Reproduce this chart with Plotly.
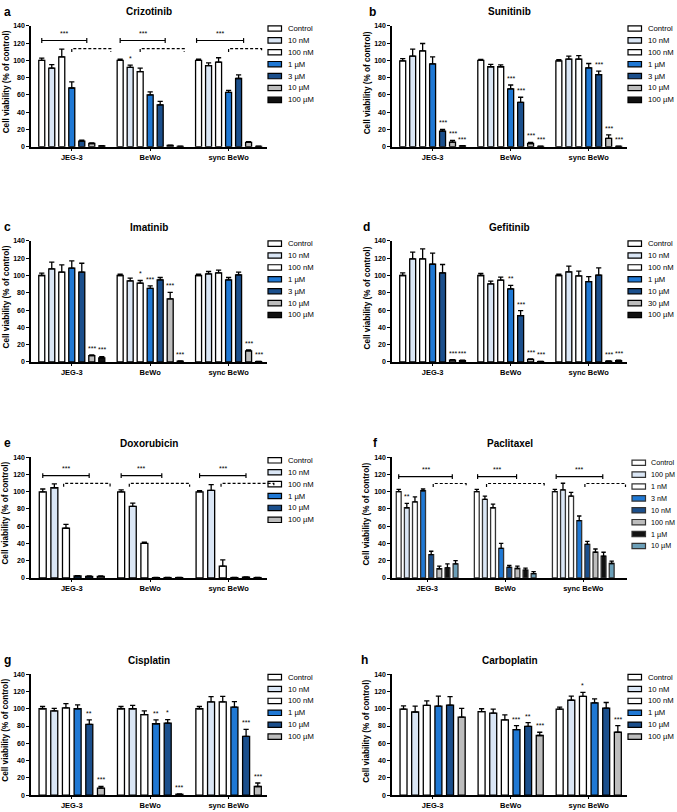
import plotly.graph_objects as go

GROUPS = ["JEG-3", "BeWo", "sync BeWo"]

WHITE = "#ffffff"
LBLUE = "#dae6f5"
BLUE = "#1f78d4"
DBLUE = "#1b4f8c"
GRAY = "#bdbdbd"
BLACK = "#111111"
TEAL = "#6b9fb8"

C7 = [WHITE, LBLUE, WHITE, BLUE, DBLUE, GRAY, BLACK]
C6 = [WHITE, LBLUE, WHITE, BLUE, DBLUE, GRAY]
C8 = [WHITE, LBLUE, WHITE, BLUE, DBLUE, GRAY, BLACK, TEAL]

# ---- a Crizotinib ----
CRIZ_DOSES = ["Control", "10 nM", "100 nM", "1 µM", "3 µM", "10 µM", "100 µM"]
CRIZ_MEAN = [[100, 91, 104, 68, 6.5, 3.8, 1], [100, 92, 87, 60, 48.5, 1.5, 0.4], [100, 94, 98, 63, 79, 5, 0.4]]
CRIZ_SEM = [[2.5, 4, 9, 7, 1.2, 0.8, 0.3], [1.5, 2.5, 4, 3.5, 4, 0.3, 0.2], [1.5, 3, 5, 2.3, 4.2, 1, 0.2]]
CRIZ_STARS = [["", "", "", "", "", "", ""], ["", "*", "", "", "", "", ""], ["", "", "", "", "", "", ""]]

# ---- b Sunitinib ----
SUNI_DOSES = ["Control", "10 nM", "100 nM", "1 µM", "3 µM", "10 µM", "100 µM"]
SUNI_MEAN = [[99.5, 105, 111, 96, 18, 5.4, 1], [100, 92.6, 92.6, 67, 51.3, 3.8, 0.4], [99.5, 101.4, 101.4, 91.4, 83.4, 9.6, 0.4]]
SUNI_SEM = [[2.5, 8, 8.5, 8, 2, 1.9, 0.4], [1.2, 2.7, 2.2, 4.5, 6, 1.2, 0.2], [1.2, 3.4, 4.2, 5, 4.2, 4.2, 0.2]]
SUNI_STARS = [["", "", "", "", "***", "***", "***"], ["", "", "", "***", "***", "***", "***"], ["", "", "", "", "***", "***", "***"]]

# ---- c Imatinib ----
IMA_DOSES = ["Control", "10 nM", "100 nM", "1 µM", "3 µM", "10 µM", "100 µM"]
IMA_MEAN = [[100, 107.7, 103.8, 108.5, 103.8, 7.3, 4.6], [100, 93.8, 91.2, 85, 95, 73, 0.8], [100, 101.9, 103, 95, 100.8, 12.7, 0.4]]
IMA_SEM = [[2.7, 7.7, 8.5, 8.4, 10.4, 0.8, 1.6], [1.5, 3.1, 3, 3, 2.7, 7.4, 0.3], [1.5, 2.7, 3.2, 2.7, 3, 1.1, 0.2]]
IMA_STARS = [["", "", "", "", "", "***", "***"], ["", "", "*", "***", "", "***", "***"], ["", "", "", "", "", "***", "***"]]

# ---- d Gefitinib ----
GEF_DOSES = ["Control", "10 nM", "100 nM", "1 µM", "10 µM", "30 µM", "100 µM"]
GEF_MEAN = [[100, 119.2, 119.2, 113, 103, 2, 1.5], [100, 90.4, 94.6, 84.6, 53.5, 3, 0.4], [100, 104.2, 99.6, 93, 100.4, 0.8, 1.5]]
GEF_SEM = [[3, 7.8, 11.6, 13, 9.7, 0.5, 0.5], [2.3, 3.1, 3.4, 3.9, 5.9, 0.5, 0.2], [1.5, 6.6, 5.4, 5.8, 8.4, 0.2, 0.5]]
GEF_STARS = [["", "", "", "", "", "***", "***"], ["", "", "", "**", "***", "***", "***"], ["", "", "", "", "", "***", "***"]]

# ---- e Doxorubicin ----
DOX_DOSES = ["Control", "10 nM", "100 nM", "1 µM", "10 µM", "100 µM"]
DOX_MEAN = [[99.6, 104.5, 57.6, 2.3, 2, 2], [99.6, 83, 40.2, 0.4, 0.5, 0.5], [99.6, 101.5, 13.8, 0.5, 1, 0.5]]
DOX_SEM = [[3.4, 4.5, 4.4, 0.5, 0.5, 0.5], [2.4, 3.6, 1.2, 0.2, 0.2, 0.2], [1.4, 6.5, 7.2, 0.2, 0.3, 0.2]]
DOX_STARS = [["", "", "", "", "", ""], ["", "", "", "", "", ""], ["", "", "", "", "", ""]]

# ---- f Paclitaxel ----
PAC_DOSES = ["Control", "100 pM", "1 nM", "3 nM", "10 nM", "100 nM", "1 µM", "10 µM"]
PAC_MEAN = [[100, 81.3, 88.2, 101, 27, 10.7, 11.8, 16.4], [100, 91, 81.3, 34.4, 12.2, 11, 9.2, 5], [100, 102, 94.7, 66.4, 39, 29.8, 25.2, 16.8]]
PAC_SEM = [[2.5, 5, 5.8, 2, 4, 3, 4.6, 3.8], [2.5, 3.7, 4.2, 5.6, 2.3, 2.7, 2.3, 2.3], [2.5, 7.7, 4.5, 5.4, 3.4, 3.8, 4.6, 2.7]]
PAC_STARS = [["", "**", "", "", "", "", "", ""], ["", "", "", "", "", "", "", ""], ["", "", "", "", "", "", "", ""]]

# ---- g Cisplatin ----
CIS_DOSES = ["Control", "10 nM", "100 nM", "1 µM", "10 µM", "100 µM"]
CIS_MEAN = [[100, 97.4, 101, 100, 81.9, 8], [100, 100, 93.2, 82.6, 83.4, 1], [100, 107.9, 107.9, 101.9, 68, 10]]
CIS_SEM = [[2.6, 3, 5, 4.5, 5.3, 2], [2.6, 3.8, 4.2, 4.6, 4.1, 0.3], [2.6, 6.1, 6.4, 6.4, 8.2, 4]]
CIS_STARS = [["", "", "", "", "**", "***"], ["", "", "", "**", "*", "***"], ["", "", "", "", "***", "***"]]

# ---- h Carboplatin ----
CARB_DOSES = ["Control", "10 nM", "100 nM", "1 µM", "10 µM", "100 µM"]
CARB_MEAN = [[99.6, 96.2, 103.8, 103, 104.2, 90.2], [96.6, 95, 87.2, 75.8, 79.6, 69], [99.6, 109.8, 114.3, 106.8, 100.8, 72.8]]
CARB_SEM = [[3.8, 6.8, 5.2, 11.7, 9.8, 10.2], [3.4, 4.6, 5.6, 4.6, 4.2, 3.8], [2.3, 4.9, 4.6, 4.5, 6.4, 7.6]]
CARB_STARS = [["", "", "", "", "", ""], ["", "", "", "***", "**", "***"], ["", "", "*", "", "", "***"]]

# Significance brackets (bar-index ranges per group)
CRIZ_BRACKETS = dict(solid_y=123, dashed_y=113.6, solid=[(0, 4.5), (0, 4.5), (-0.2, 4.5)], dashed=[(3, 6.9), (2, 6.4), (3, 6.3)])
DOX_BRACKETS = dict(solid_y=118.5, dashed_y=109.5, solid=[(0, 4), (0, 3.5), (0, 4)], dashed=[(1.8, 5.8), (0.7, 5.9), (1.85, 6.4)])
PAC_BRACKETS = dict(solid_y=117.4, dashed_y=109.4, solid=[(0, 6.6), (0.1, 4.9), (0.16, 5.9)], dashed=[(4.25, 8.3), (1.2, 8.3), (3.7, 8.7)])

FIG_W, FIG_H = 677, 812
COLS = [(31, 267), (392, 627)]
ROWS = [(22, 144), (239, 361), (457, 579), (676, 798)]
FONT = "Arial, Liberation Sans, sans-serif"
YMAX = 140

PANELS = [
    dict(letter="a", title="Crizotinib", doses=CRIZ_DOSES, colors=C7, mean=CRIZ_MEAN, sem=CRIZ_SEM, stars=CRIZ_STARS,
         slot=0.1276, xr=(-0.52, 2.49), col=0, row=0, leg=(268, 24.7, 18, 7.7), lx=7, br=CRIZ_BRACKETS),
    dict(letter="b", title="Sunitinib", doses=SUNI_DOSES, colors=C7, mean=SUNI_MEAN, sem=SUNI_SEM, stars=SUNI_STARS,
         slot=0.1276, xr=(-0.52, 2.49), col=1, row=0, leg=(628, 24.7, 18, 7.7), lx=372, br=None),
    dict(letter="c", title="Imatinib", doses=IMA_DOSES, colors=C7, mean=IMA_MEAN, sem=IMA_SEM, stars=IMA_STARS,
         slot=0.1276, xr=(-0.52, 2.49), col=0, row=1, leg=(268, 241.7, 18, 7.7), lx=7, br=None),
    dict(letter="d", title="Gefitinib", doses=GEF_DOSES, colors=C7, mean=GEF_MEAN, sem=GEF_SEM, stars=GEF_STARS,
         slot=0.1276, xr=(-0.52, 2.49), col=1, row=1, leg=(628, 241.7, 18, 7.7), lx=367, br=None),
    dict(letter="e", title="Doxorubicin", doses=DOX_DOSES, colors=C6, mean=DOX_MEAN, sem=DOX_SEM, stars=DOX_STARS,
         slot=0.148, xr=(-0.52, 2.49), col=0, row=2, leg=(268, 460.3, 18, 7.7), lx=7, br=DOX_BRACKETS),
    dict(letter="f", title="Paclitaxel", doses=PAC_DOSES, colors=C8, mean=PAC_MEAN, sem=PAC_SEM, stars=PAC_STARS,
         slot=0.104, xr=(-0.45, 2.56), col=1, row=2, leg=(632, 462.7, 16.5, 7.2), lx=375, br=PAC_BRACKETS),
    dict(letter="g", title="Cisplatin", doses=CIS_DOSES, colors=C6, mean=CIS_MEAN, sem=CIS_SEM, stars=CIS_STARS,
         slot=0.149, xr=(-0.52, 2.49), col=0, row=3, leg=(268, 679, 18, 7.7), lx=7, br=None),
    dict(letter="h", title="Carboplatin", doses=CARB_DOSES, colors=C6, mean=CARB_MEAN, sem=CARB_SEM, stars=CARB_STARS,
         slot=0.149, xr=(-0.52, 2.49), col=1, row=3, leg=(628, 679, 18, 7.7), lx=364, br=None),
]


def pxx(px):
    return px / FIG_W


def pxy(py):
    return 1 - py / FIG_H


def to_paper(p, x, y):
    c0, c1 = COLS[p["col"]]
    r0, r1 = ROWS[p["row"]]
    x0, x1 = p["xr"]
    px = c0 + (x - x0) / (x1 - x0) * (c1 - c0)
    py = r1 - y / YMAX * (r1 - r0)
    return pxx(px), pxy(py)


fig = go.Figure()
layout = dict(
    width=FIG_W, height=FIG_H, margin=dict(l=0, r=0, t=0, b=0),
    paper_bgcolor="white", plot_bgcolor="white", showlegend=False,
    barmode="overlay", font=dict(family=FONT, color="black"),
)
annotations = []
shapes = []

for k, p in enumerate(PANELS, start=1):
    xa = "x" if k == 1 else f"x{k}"
    ya = "y" if k == 1 else f"y{k}"
    xkey = "xaxis" if k == 1 else f"xaxis{k}"
    ykey = "yaxis" if k == 1 else f"yaxis{k}"
    c0, c1 = COLS[p["col"]]
    r0, r1 = ROWS[p["row"]]
    n = len(p["doses"])
    slot = p["slot"]
    edge = "#333333" if p["letter"] == "f" else "black"

    for j, dose in enumerate(p["doses"]):
        xs = [g + (j - (n - 1) / 2) * slot for g in range(3)]
        ys = [p["mean"][g][j] for g in range(3)]
        es = [p["sem"][g][j] for g in range(3)]
        fig.add_trace(go.Bar(
            x=xs, y=ys, width=slot * 0.6, name=dose,
            marker=dict(color=p["colors"][j], line=dict(color=edge, width=1.3)),
            error_y=dict(type="data", array=es, arrayminus=[0] * 3, symmetric=False,
                         color="black", thickness=1.3, width=2.6 if n < 8 else 2.2),
            xaxis=xa, yaxis=ya, showlegend=False, hoverinfo="skip",
        ))
        for g in range(3):
            s = p["stars"][g][j]
            if s:
                annotations.append(dict(
                    x=xs[g], y=ys[g] + es[g] + 1.2, xref=xa, yref=ya, text=s, showarrow=False,
                    yanchor="bottom", xanchor="center", font=dict(size=7, family=FONT)))

    layout[xkey] = dict(
        domain=[pxx(c0), pxx(c1)], range=list(p["xr"]), anchor=ya,
        tickmode="array", tickvals=[0, 1, 2], ticktext=GROUPS,
        ticks="outside", ticklen=2, tickwidth=1.3, tickcolor="black",
        showline=True, linecolor="black", linewidth=1.5, showgrid=False, zeroline=False,
        tickfont=dict(size=7.5, family=FONT, weight="bold"), fixedrange=True,
    )
    layout[ykey] = dict(
        domain=[pxy(r1), pxy(r0)], range=[0, YMAX], anchor=xa,
        tickmode="array", tickvals=[0, 20, 40, 60, 80, 100, 120, 140],
        ticks="outside", ticklen=3, tickwidth=1.3, tickcolor="black",
        showline=True, linecolor="black", linewidth=1.5, showgrid=False, zeroline=False,
        tickfont=dict(size=7, family=FONT, weight="bold"), fixedrange=True,
    )

    # title, panel letter, y-axis title
    ty = r0 - 14
    annotations.append(dict(x=pxx((c0 + c1) / 2), y=pxy(ty), xref="paper", yref="paper", text=p["title"],
                            showarrow=False, xanchor="center", yanchor="middle",
                            font=dict(size=10, family=FONT, weight="bold")))
    annotations.append(dict(x=pxx(p["lx"]), y=pxy(ty), xref="paper", yref="paper", text=p["letter"],
                            showarrow=False, xanchor="center", yanchor="middle",
                            font=dict(size=12, family=FONT, weight="bold")))
    annotations.append(dict(x=pxx(c0 - 25), y=pxy((r0 + r1) / 2 - 4), xref="paper", yref="paper",
                            text="Cell viability (% of control)", textangle=-90, showarrow=False,
                            xanchor="center", yanchor="middle",
                            font=dict(size=8.2, family=FONT, weight="bold")))

    # legend drawn in paper space
    lx0, ly0, tdx, tsz = p["leg"]
    for j, dose in enumerate(p["doses"]):
        cy = ly0 + 12 * j
        shapes.append(dict(type="rect", xref="paper", yref="paper",
                           x0=pxx(lx0), x1=pxx(lx0 + 13.5), y0=pxy(cy - 2.7), y1=pxy(cy + 2.7),
                           fillcolor=p["colors"][j], line=dict(color=edge, width=1.2)))
        annotations.append(dict(x=pxx(lx0 + tdx), y=pxy(cy), xref="paper", yref="paper", text=dose,
                                showarrow=False, xanchor="left", yanchor="middle",
                                font=dict(size=tsz, family=FONT)))

    # significance brackets
    br = p["br"]
    if br:
        for g in range(3):
            a, b = br["solid"][g]
            xa0 = g + (a - (n - 1) / 2) * slot
            xa1 = g + (b - (n - 1) / 2) * slot
            sy = br["solid_y"]
            X0, Y = to_paper(p, xa0, sy)
            X1, _ = to_paper(p, xa1, sy)
            _, Yt = to_paper(p, xa0, sy + 2.8)
            _, Yb = to_paper(p, xa0, sy - 2.8)
            for seg in [(X0, Y, X1, Y), (X0, Yb, X0, Yt), (X1, Yb, X1, Yt)]:
                shapes.append(dict(type="line", xref="paper", yref="paper", x0=seg[0], y0=seg[1],
                                   x1=seg[2], y1=seg[3], line=dict(color="black", width=1.2)))
            annotations.append(dict(x=(X0 + X1) / 2, y=Y + 1.5 / FIG_H, xref="paper", yref="paper", text="***",
                                    showarrow=False, xanchor="center", yanchor="bottom",
                                    font=dict(size=7, family=FONT)))
            a, b = br["dashed"][g]
            xd0 = g + (a - (n - 1) / 2) * slot
            xd1 = g + (b - (n - 1) / 2) * slot
            dy = br["dashed_y"]
            D0, DY = to_paper(p, xd0, dy)
            D1, _ = to_paper(p, xd1, dy)
            _, DB = to_paper(p, xd0, dy - 4)
            shapes.append(dict(type="path", xref="paper", yref="paper",
                               path=f"M {D0},{DB} L {D0},{DY} L {D1},{DY} L {D1},{DB}",
                               line=dict(color="black", width=1.2, dash="3px,2px")))

layout["annotations"] = annotations
layout["shapes"] = shapes
fig.update_layout(**layout)
fig.write_html("out.html", config={"displayModeBar": False},
               post_script="document.body.style.margin='0px';document.body.style.overflow='hidden';")
